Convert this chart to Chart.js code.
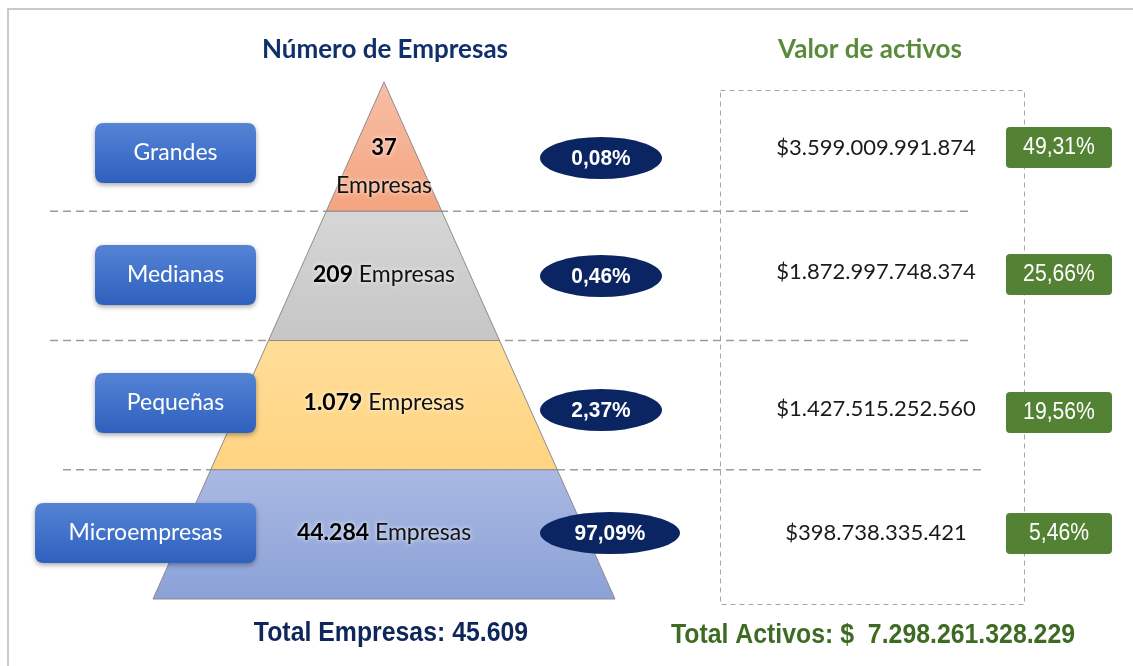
<!DOCTYPE html>
<html>
<head>
<meta charset="utf-8">
<script src="https://cdn.jsdelivr.net/npm/chart.js@4.4.1/dist/chart.umd.min.js"></script>
<style>
  html, body { margin: 0; padding: 0; background: #fff; }
  #lienzo { display: block; }
</style>
</head>
<body>
<canvas id="lienzo" width="1133" height="666"></canvas>
<script>
// datos
const categorias = ['Grandes', 'Medianas', 'Pequeñas', 'Microempresas'];
const numEmpresas = [37, 209, 1079, 44284];
const pctEmpresas = [0.08, 0.46, 2.37, 97.09];
const valorActivos = [3599009991874, 1872997748374, 1427515252560, 398738335421];
const pctActivos = [49.31, 25.66, 19.56, 5.46];
const totalEmpresas = 45609;
const totalActivos = 7298261328229;

const W = 1133, H = 666;

// colores por nivel de la piramide (arriba / abajo del degradado)
const coloresNivel = [
  ['#F7BEA6', '#F4A47F'],
  ['#D6D6D6', '#C6C6C6'],
  ['#FFDD98', '#FFD482'],
  ['#AAB9E2', '#8BA1D7']
];

// disposicion general (pixeles de la pagina)
const piramide = { cx: 384, top: 82, base: 599, mitadBase: 231 };
const filaBoton = [153, 275, 403, 533];
const anchoBoton = [161, 161, 161, 221];
const filaElipse = [158, 276, 410, 533];
const elipseCx = [601, 601, 601, 610];
const elipseAncho = [122, 122, 122, 140];
const filaValor = [148, 272, 409, 533];
const filaVerde = [147, 274, 412, 533];
const lineasGuia = [[50, 972], [50, 972], [63, 985]];

const fmtMiles = n => String(n).replace(/\B(?=(\d{3})+(?!\d))/g, '.');
const fmtPct = n => n.toFixed(2).replace('.', ',') + '%';

const CAL = 'Lato, "Noto Sans", sans-serif';
const ARI = '"Liberation Sans", Arial, sans-serif';

function redondeado(ctx, x, y, w, h, r) {
  ctx.beginPath();
  ctx.moveTo(x + r, y);
  ctx.lineTo(x + w - r, y);
  ctx.quadraticCurveTo(x + w, y, x + w, y + r);
  ctx.lineTo(x + w, y + h - r);
  ctx.quadraticCurveTo(x + w, y + h, x + w - r, y + h);
  ctx.lineTo(x + r, y + h);
  ctx.quadraticCurveTo(x, y + h, x, y + h - r);
  ctx.lineTo(x, y + r);
  ctx.quadraticCurveTo(x, y, x + r, y);
  ctx.closePath();
}

// escala horizontal opcional para imitar letra condensada
function texto(ctx, t, x, y, font, color, align, escX) {
  const e = escX || 1;
  ctx.save();
  ctx.translate(x, y);
  ctx.scale(e, 1);
  ctx.font = font;
  ctx.fillStyle = color;
  ctx.textAlign = align || 'center';
  ctx.textBaseline = 'middle';
  ctx.fillText(t, 0, 0);
  ctx.restore();
}

// "209 Empresas" con el numero en negrita
function textoMixto(ctx, negrita, normal, x, y, size) {
  const fb = 'bold ' + size + 'px ' + CAL;
  const fn = size + 'px ' + CAL;
  ctx.font = fb; const wb = ctx.measureText(negrita).width;
  ctx.font = fn; const wn = ctx.measureText(normal).width;
  const x0 = x - (wb + wn) / 2;
  texto(ctx, negrita, x0, y, fb, '#000', 'left');
  texto(ctx, normal, x0 + wb, y, fn, '#111', 'left');
}

const infografia = {
  id: 'infografia',
  afterDraw(chart) {
    const ctx = chart.ctx;
    const sx = v => chart.scales.x.getPixelForValue(v);
    const sy = v => chart.scales.y.getPixelForValue(v);
    const n = categorias.length;

    ctx.save();
    // marco
    ctx.strokeStyle = '#C9C9C9';
    ctx.lineWidth = 2;
    ctx.beginPath();
    ctx.moveTo(sx(8), sy(H));
    ctx.lineTo(sx(8), sy(9));
    ctx.lineTo(sx(W), sy(9));
    ctx.stroke();

    // titulos
    texto(ctx, 'Número de Empresas', sx(385), sy(50), 'bold 26px ' + CAL, '#10306B');
    texto(ctx, 'Valor de activos', sx(870), sy(50), 'bold 26px ' + CAL, '#5A8B3C');

    // caja punteada de activos
    ctx.setLineDash([5, 4]);
    ctx.strokeStyle = '#A6A6A6';
    ctx.lineWidth = 1;
    ctx.strokeRect(sx(720) + 0.5, sy(90) + 0.5, sx(1024) - sx(720), sy(604) - sy(90));

    // lineas guia entre niveles
    const alto = (piramide.base - piramide.top) / n;
    ctx.setLineDash([8, 5]);
    ctx.strokeStyle = '#9C9C9C';
    ctx.lineWidth = 1.3;
    lineasGuia.forEach((l, i) => {
      const y = sy(piramide.top + alto * (i + 1));
      ctx.beginPath();
      ctx.moveTo(sx(l[0]), y);
      ctx.lineTo(sx(l[1]), y);
      ctx.stroke();
    });
    ctx.setLineDash([]);

    // piramide
    const pend = piramide.mitadBase / (piramide.base - piramide.top);
    categorias.forEach((c, i) => {
      const y0 = piramide.top + alto * i, y1 = y0 + alto;
      const w0 = (y0 - piramide.top) * pend, w1 = (y1 - piramide.top) * pend;
      const g = ctx.createLinearGradient(0, sy(y0), 0, sy(y1));
      g.addColorStop(0, coloresNivel[i][0]);
      g.addColorStop(1, coloresNivel[i][1]);
      ctx.beginPath();
      ctx.moveTo(sx(piramide.cx - w0), sy(y0));
      ctx.lineTo(sx(piramide.cx + w0), sy(y0));
      ctx.lineTo(sx(piramide.cx + w1), sy(y1));
      ctx.lineTo(sx(piramide.cx - w1), sy(y1));
      ctx.closePath();
      ctx.fillStyle = g;
      ctx.fill();
      ctx.strokeStyle = '#8C8C8C';
      ctx.lineWidth = 1;
      ctx.stroke();
    });

    // textos de la piramide, con un leve halo blanco
    ctx.save();
    ctx.shadowColor = 'rgba(255,255,255,0.9)';
    ctx.shadowBlur = 4;
    texto(ctx, String(numEmpresas[0]), sx(piramide.cx), sy(148), 'bold 22px ' + CAL, '#000');
    texto(ctx, 'Empresas', sx(piramide.cx), sy(186), '23px ' + CAL, '#111');
    for (let i = 1; i < n; i++) {
      textoMixto(ctx, fmtMiles(numEmpresas[i]), ' Empresas', sx(piramide.cx), sy(filaBoton[i]), 23);
    }
    ctx.restore();

    // botones de categoria
    categorias.forEach((c, i) => {
      const x1 = 256, w = anchoBoton[i], h = 60;
      const y = filaBoton[i] - h / 2;
      ctx.save();
      ctx.shadowColor = 'rgba(0,0,0,0.35)';
      ctx.shadowBlur = 5;
      ctx.shadowOffsetY = 2;
      const g = ctx.createLinearGradient(0, sy(y), 0, sy(y + h));
      g.addColorStop(0, '#5584D6');
      g.addColorStop(1, '#2E60BD');
      redondeado(ctx, sx(x1 - w), sy(y), w, h, 9);
      ctx.fillStyle = g;
      ctx.fill();
      ctx.restore();
      texto(ctx, c, sx(x1 - w / 2), sy(filaBoton[i]), '23px ' + CAL, '#FFFFFF');
    });

    // elipses con porcentaje de empresas
    pctEmpresas.forEach((p, i) => {
      ctx.beginPath();
      ctx.ellipse(sx(elipseCx[i]), sy(filaElipse[i]), elipseAncho[i] / 2, 21, 0, 0, Math.PI * 2);
      ctx.fillStyle = '#0B2462';
      ctx.fill();
      texto(ctx, fmtPct(p), sx(elipseCx[i]), sy(filaElipse[i] + 1), 'bold 22px ' + ARI, '#FFFFFF', 'center', 0.95);
    });

    // valores de activos
    valorActivos.forEach((v, i) => {
      texto(ctx, '$' + fmtMiles(v), sx(876), sy(filaValor[i]), '22px ' + CAL, '#1A1A1A');
    });

    // porcentaje de activos
    pctActivos.forEach((p, i) => {
      redondeado(ctx, sx(1006), sy(filaVerde[i] - 20), 106, 41, 4);
      ctx.fillStyle = '#548235';
      ctx.fill();
      texto(ctx, fmtPct(p), sx(1059), sy(filaVerde[i] + 1), '23px ' + ARI, '#FFFFFF', 'center', 0.92);
    });

    // totales
    texto(ctx, 'Total Empresas: ' + fmtMiles(totalEmpresas), sx(391), sy(634), 'bold 27px ' + ARI, '#0E2659', 'center', 0.92);
    texto(ctx, 'Total Activos: $  ' + fmtMiles(totalActivos), sx(873), sy(636), 'bold 27px ' + ARI, '#3E6B24', 'center', 0.92);
    ctx.restore();
  }
};

new Chart(document.getElementById('lienzo'), {
  type: 'scatter',
  data: { datasets: [] },
  options: {
    responsive: false,
    animation: false,
    events: [],
    layout: { padding: 0 },
    plugins: { legend: { display: false }, tooltip: { enabled: false } },
    scales: {
      x: { type: 'linear', min: 0, max: W, display: false },
      y: { type: 'linear', min: 0, max: H, reverse: true, display: false }
    }
  },
  plugins: [infografia]
});
</script>
</body>
</html>
